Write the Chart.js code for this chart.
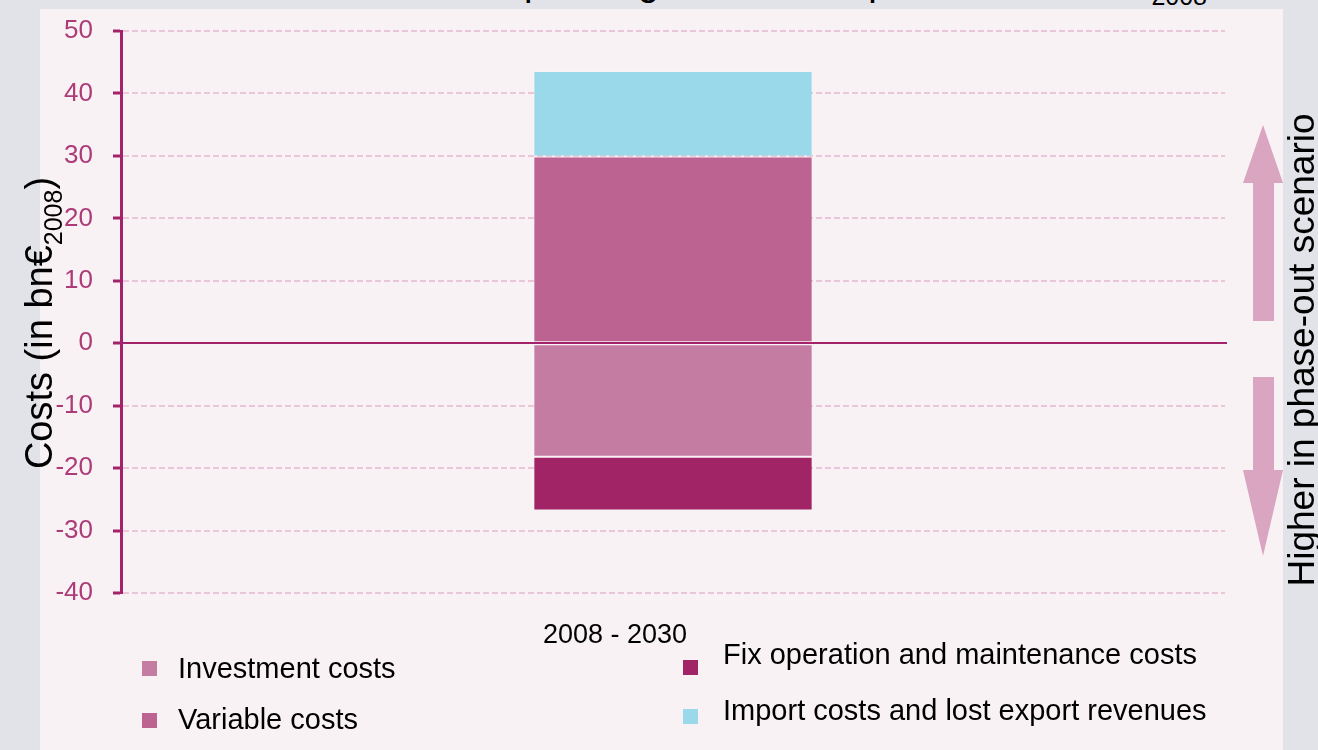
<!DOCTYPE html>
<html>
<head>
<meta charset="utf-8">
<title>Costs 2008 - 2030</title>
<script src="https://cdn.jsdelivr.net/npm/chart.js@4.4.1/dist/chart.umd.min.js"></script>
<style>
   html, body { margin: 0; padding: 0; }
   body {
      width: 1318px; height: 750px; overflow: hidden; position: relative;
      background: #e1e3e8;
      font-family: Arial, "Liberation Sans", sans-serif;
   }
   #panel { position: absolute; left: 40px; top: 9px; width: 1243px; height: 741px; background: #f9f2f5; }
   #title { position: absolute; left: 205px; top: -37px; font-size: 38px; line-height: 38px; white-space: nowrap; color: #000; }
   .sub { position: relative; top: 10px; font-size: 25px; }
   #chart { position: absolute; left: 0; top: 0; }
   .vtext { position: absolute; white-space: nowrap; color: #000; transform: translate(-50%, -50%) rotate(-90deg); }
   #yTitle { left: 41px; top: 323px; font-size: 38px; line-height: 38px; }
   #rightTitle { left: 1301px; top: 350px; font-size: 37px; line-height: 37px; }
   .legend-item { position: absolute; font-size: 29px; line-height: 29px; white-space: nowrap; color: #000; }
   .legend-box { position: absolute; width: 15px; height: 15px; }
   #arrows { position: absolute; left: 0; top: 0; }
</style>
</head>
<body>
<div id="panel"></div>
<div id="title">Additional costs of power generation in phase-out in bn€<span class="sub">2008</span></div>
<canvas id="chart" width="1318" height="750"></canvas>
<svg id="arrows" width="1318" height="750">
   <polygon points="1263,125 1283,183 1274,183 1274,321 1253,321 1253,183 1243,183" fill="#d9a5c0"/>
   <polygon points="1253,377 1274,377 1274,470 1283,470 1263,556 1243,470 1253,470" fill="#d9a5c0"/>
</svg>
<div id="yTitle" class="vtext">Costs (in bn€<span class="sub">2008</span>)</div>
<div id="rightTitle" class="vtext">Higher in phase-out scenario</div>
<div id="legend"></div>

<script>
'use strict';

(function () {

   // Period shown on the x axis
   const periods = ['2008 - 2030'];

   // Series names, one value each (bn€ 2008, difference to reference)
   const seriesNames = [
      'Investment costs',
      'Variable costs',
      'Fix operation and maintenance costs',
      'Import costs and lost export revenues'
   ];
   const investmentCosts = [-18.2];
   const variableCosts = [29.9];
   const fixOmCosts = [-8.6];
   const importCosts = [13.7];

   // Y axis range and tick step
   const yMin = -40;
   const yMax = 50;
   const yStep = 10;

   const seriesColors = ['#c57ca3', '#bc6392', '#a02466', '#9ad9ea'];
   const axisColor = '#a3236b';
   const tickTextColor = '#ad3b78';

   // Legend layout: two columns, two rows
   const legendSpots = [
      { box: [142, 661], text: [178, 654] },
      { box: [142, 713], text: [178, 705] },
      { box: [683, 660], text: [723, 640] },
      { box: [683, 709], text: [723, 696] }
   ];

   const seriesValues = [investmentCosts, variableCosts, fixOmCosts, importCosts];

   // Solid zero line, drawn on top of the bars
   const zeroLine = {
      id: 'zeroLine',
      afterDatasetsDraw(chart) {
         const area = chart.chartArea;
         const y = Math.round(chart.scales.y.getPixelForValue(0));
         const ctx = chart.ctx;
         ctx.save();
         ctx.strokeStyle = axisColor;
         ctx.lineWidth = 2;
         ctx.beginPath();
         ctx.moveTo(area.left, y);
         ctx.lineTo(area.right + 2, y);
         ctx.stroke();
         ctx.restore();
      }
   };

   const datasets = seriesNames.map(function (name, i) {
      return {
         label: name,
         data: seriesValues[i],
         backgroundColor: seriesColors[i],
         borderColor: 'rgba(255,255,255,0.18)',
         borderWidth: 1,
         borderSkipped: false,
         barPercentage: 0.253,
         categoryPercentage: 1.0,
         stack: 'costs'
      };
   });

   const ctx = document.getElementById('chart');
   new Chart(ctx, {
      type: 'bar',
      data: { labels: periods, datasets: datasets },
      plugins: [zeroLine],
      options: {
         responsive: false,
         animation: false,
         devicePixelRatio: 1,
         layout: { padding: { left: 40, top: 31, right: 93, bottom: 0 } },
         plugins: {
            legend: { display: false },
            tooltip: { enabled: false }
         },
         scales: {
            x: {
               stacked: true,
               grid: { display: false, drawTicks: false },
               border: { display: false },
               ticks: {
                  color: '#000',
                  font: { family: 'Arial, "Liberation Sans", sans-serif', size: 27 },
                  padding: 26,
                  labelOffset: -58
               },
               afterFit: function (scale) { scale.height = 157; }
            },
            y: {
               stacked: true,
               min: yMin,
               max: yMax,
               grid: {
                  color: '#ebc6d9',
                  lineWidth: 2,
                  tickColor: axisColor,
                  tickWidth: 3,
                  tickLength: 8,
                  tickBorderDash: []
               },
               border: { display: true, color: axisColor, width: 3, dash: [6, 3] },
               ticks: {
                  stepSize: yStep,
                  color: tickTextColor,
                  padding: 20,
                  font: { family: 'Arial, "Liberation Sans", sans-serif', size: 26 }
               },
               // fixed axis width; the layout padding already leaves room for the end labels
               afterFit: function (scale) {
                  scale.width = 81;
                  scale.paddingTop = 0;
                  scale.paddingBottom = 0;
               }
            }
         }
      }
   });

   // Legend built from the same series names and colours
   const legend = document.getElementById('legend');
   seriesNames.forEach(function (name, i) {
      const spot = legendSpots[i];
      const box = document.createElement('div');
      box.className = 'legend-box';
      box.style.left = spot.box[0] + 'px';
      box.style.top = spot.box[1] + 'px';
      box.style.background = seriesColors[i];
      legend.appendChild(box);

      const label = document.createElement('div');
      label.className = 'legend-item';
      label.style.left = spot.text[0] + 'px';
      label.style.top = spot.text[1] + 'px';
      label.textContent = name;
      legend.appendChild(label);
   });
})();
</script>
</body>
</html>
